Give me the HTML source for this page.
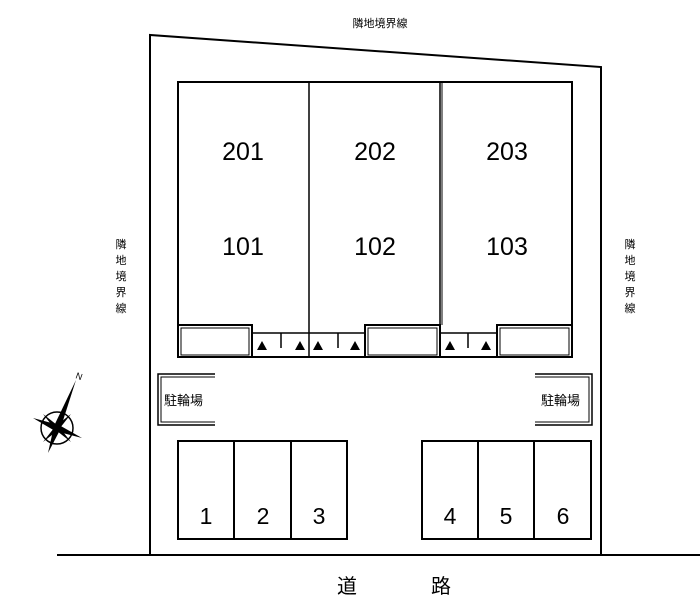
<!DOCTYPE html>
<html><head><meta charset="utf-8"><style>
html,body{margin:0;padding:0;background:#fff;}
svg{display:block;}
text{font-family:"Liberation Sans","Noto Sans CJK JP",sans-serif;fill:#000;}
</style></head><body>
<svg width="700" height="607" viewBox="0 0 700 607" xmlns="http://www.w3.org/2000/svg">
<g fill="none" stroke="#000" stroke-width="2">
<polyline points="150,555 150,35 601,67 601,555"/>
<line x1="57" y1="555" x2="700" y2="555"/>
<rect x="178" y="82" width="394" height="275"/>
<line x1="309" y1="82" x2="309" y2="357" stroke-width="1.5"/>
<line x1="440" y1="82" x2="440" y2="357" stroke-width="1.5"/>
<line x1="442" y1="82" x2="442" y2="325" stroke-width="1"/>
</g>
<g fill="#fff" stroke="#000" stroke-width="2">
<rect x="178" y="325" width="74" height="32"/>
<rect x="365" y="325" width="75" height="32"/>
<rect x="497" y="325" width="75" height="32"/>
</g>
<g fill="none" stroke="#000" stroke-width="1">
<rect x="181" y="328" width="68" height="27"/>
<rect x="368" y="328" width="69" height="27"/>
<rect x="500" y="328" width="69" height="27"/>
</g>
<g stroke="#000" stroke-width="1.5">
<line x1="252" y1="333" x2="365" y2="333"/>
<line x1="440" y1="333" x2="497" y2="333"/>
<line x1="281" y1="333" x2="281" y2="348"/>
<line x1="338" y1="333" x2="338" y2="348"/>
<line x1="468" y1="333" x2="468" y2="348"/>
</g>
<g fill="#000">
<polygon points="262,341 257,350 267,350"/>
<polygon points="300,341 295,350 305,350"/>
<polygon points="318,341 313,350 323,350"/>
<polygon points="355,341 350,350 360,350"/>
<polygon points="450,341 445,350 455,350"/>
<polygon points="486,341 481,350 491,350"/>
</g>
<g fill="none" stroke="#000" stroke-width="1.5">
<polyline points="215,374 158,374 158,425 215,425"/>
<polyline points="215,377 161,377 161,422 215,422" stroke-width="1"/>
<polyline points="535,374 592,374 592,425 535,425"/>
<polyline points="535,377 589,377 589,422 535,422" stroke-width="1"/>
<rect x="178" y="441" width="169" height="98" stroke-width="2"/>
<line x1="234" y1="441" x2="234" y2="539" stroke-width="2"/>
<line x1="291" y1="441" x2="291" y2="539" stroke-width="2"/>
<rect x="422" y="441" width="169" height="98" stroke-width="2"/>
<line x1="478" y1="441" x2="478" y2="539" stroke-width="2"/>
<line x1="534" y1="441" x2="534" y2="539" stroke-width="2"/>
</g>
<g font-size="25" text-anchor="middle">
<text x="243" y="160">201</text><text x="375" y="160">202</text><text x="507" y="160">203</text>
<text x="243" y="255">101</text><text x="375" y="255">102</text><text x="507" y="255">103</text>
</g>
<g font-size="23" text-anchor="middle">
<text x="206" y="524">1</text><text x="263" y="524">2</text><text x="319" y="524">3</text>
<text x="450" y="524">4</text><text x="506" y="524">5</text><text x="563" y="524">6</text>
</g>
<g font-size="13">
<text x="164" y="405">駐輪場</text>
<text x="541" y="405">駐輪場</text>
</g>
<text x="380" y="27" font-size="11" text-anchor="middle">隣地境界線</text>
<g font-size="11" text-anchor="middle">
<text x="121" y="248">隣</text><text x="121" y="264">地</text><text x="121" y="280">境</text><text x="121" y="296">界</text><text x="121" y="312">線</text>
<text x="630" y="248">隣</text><text x="630" y="264">地</text><text x="630" y="280">境</text><text x="630" y="296">界</text><text x="630" y="312">線</text>
</g>
<g font-size="20" text-anchor="middle">
<text x="347" y="593">道</text><text x="441" y="593">路</text>
</g>
<g transform="translate(57,428)">
<circle r="16" fill="none" stroke="#000" stroke-width="1.5"/>
<polygon points="19,-48 3,2 -3,-2" fill="#000"/>
<polygon points="-9,25 3,2 -3,-2" fill="#000"/>
<polygon points="-24,-10 2,-3 -2,3" fill="#000"/>
<polygon points="25,10 2,-3 -2,3" fill="#000"/>
<polygon points="-14,-14 0,-3 -3,0" fill="#000"/>
<polygon points="14,14 0,3 3,0" fill="#000"/>
<polygon points="14,-14 3,0 0,-3" fill="#000"/>
<polygon points="-14,14 -3,0 0,3" fill="#000"/>
<text x="18" y="-50" font-size="9" transform="rotate(20 18 -50)">N</text>
</g>
</svg>
</body></html>
